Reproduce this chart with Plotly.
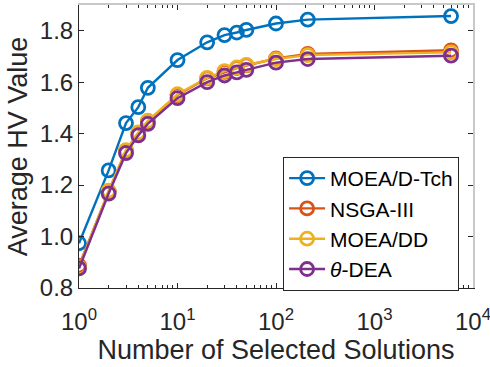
import plotly.graph_objects as go

x_vals = [1, 2, 3, 4, 5, 10, 20, 30, 40, 50, 100, 210, 5985]
moead_tch = [0.974, 1.257, 1.441, 1.503, 1.578, 1.686, 1.755, 1.783, 1.793, 1.803, 1.828, 1.843, 1.857]
nsga3 = [0.887, 1.175, 1.333, 1.402, 1.447, 1.550, 1.615, 1.640, 1.655, 1.665, 1.692, 1.710, 1.724]
moeadd = [0.880, 1.178, 1.336, 1.405, 1.450, 1.553, 1.617, 1.643, 1.657, 1.667, 1.690, 1.705, 1.716]
theta_dea = [0.876, 1.167, 1.324, 1.393, 1.438, 1.538, 1.600, 1.626, 1.638, 1.648, 1.676, 1.690, 1.703]

names = ["MOEA/D-Tch", "NSGA-III", "MOEA/DD", "<i>θ</i>-DEA"]
colors = ["#0072BD", "#D95319", "#EDB120", "#7E2F8E"]
series = [moead_tch, nsga3, moeadd, theta_dea]

xticks = [1, 10, 100, 1000, 10000]
xticktext = ["10<sup>0</sup>", "10<sup>1</sup>", "10<sup>2</sup>", "10<sup>3</sup>", "10<sup>4</sup>"]
yticks = [0.8, 1.0, 1.2, 1.4, 1.6, 1.8]
yticktext = ["0.8", "1.0", "1.2", "1.4", "1.6", "1.8"]
minor_x = [m * 10 ** e for e in range(4) for m in range(2, 10)]

fig = go.Figure()
for name, c, s in zip(names, colors, series):
    fig.add_trace(go.Scatter(
        x=x_vals, y=s, name=name, mode="lines+markers",
        line=dict(color=c, width=2.4),
        marker=dict(symbol="circle-open", size=13, color=c, line=dict(width=2.8, color=c)),
    ))
# dummy trace for mirrored axes
fig.add_trace(go.Scatter(x=[], y=[], xaxis="x2", yaxis="y2", showlegend=False))

dark = "#262626"
font_fam = "Arial"
xr = [0, 4]
yr = [0.8, 1.9]
fig.update_layout(
    width=490, height=367,
    margin=dict(l=79, r=17, t=5, b=79),
    paper_bgcolor="white", plot_bgcolor="white",
    font=dict(family=font_fam, color=dark, size=24),
    xaxis=dict(type="log", range=xr, tickvals=xticks, ticktext=xticktext, automargin=False,
               ticklabeloverflow="allow", ticklabelstandoff=12,
               ticks="inside", ticklen=5, tickcolor=dark, showline=True, linecolor=dark, linewidth=1,
               showgrid=False, zeroline=False,
               minor=dict(tickvals=minor_x, ticks="inside", ticklen=3, tickcolor=dark, showgrid=False),
               title=dict(text="Number of Selected Solutions", font=dict(family=font_fam, size=27, color=dark), standoff=4),
               tickfont=dict(family=font_fam, size=24, color=dark)),
    yaxis=dict(range=yr, tickvals=yticks, ticktext=yticktext, automargin=False,
               ticklabeloverflow="allow",
               ticks="inside", ticklen=5, tickcolor=dark, showline=True, linecolor=dark, linewidth=1,
               showgrid=False, zeroline=False,
               title=dict(text="Average HV Value", font=dict(family=font_fam, size=27, color=dark), standoff=4),
               tickfont=dict(family=font_fam, size=24, color=dark)),
    xaxis2=dict(type="log", range=xr, overlaying="x", side="top", tickvals=xticks,
                showticklabels=False, ticks="inside", ticklen=5, tickcolor=dark,
                showline=True, linecolor="#c8c8c8", linewidth=1.5, showgrid=False, zeroline=False,
                minor=dict(tickvals=minor_x, ticks="inside", ticklen=3, tickcolor=dark, showgrid=False)),
    yaxis2=dict(range=yr, overlaying="y", side="right", tickvals=yticks,
                showticklabels=False, ticks="inside", ticklen=5, tickcolor=dark,
                showline=True, linecolor="#c8c8c8", linewidth=1.5, showgrid=False, zeroline=False),
    legend=dict(x=0.518, y=0.463, xanchor="left", yanchor="top",
                bgcolor="white", bordercolor=dark, borderwidth=1,
                font=dict(family=font_fam, size=21, color="black"), itemwidth=36, tracegroupgap=0),
    showlegend=True,
)
fig.write_html("out.html")
